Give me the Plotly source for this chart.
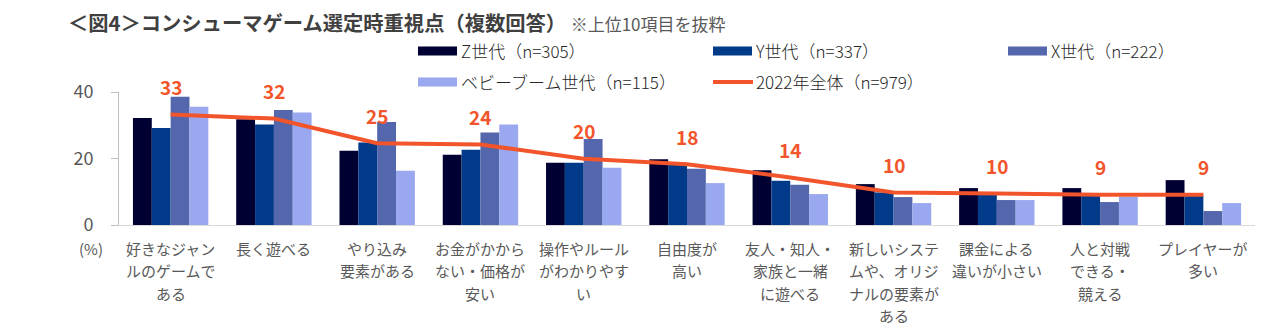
import plotly.graph_objects as go

# ---- data -------------------------------------------------------------
categories = [
    "好きなジャン<br>ルのゲームで<br>ある",
    "長く遊べる",
    "やり込み<br>要素がある",
    "お金がかから<br>ない・価格が<br>安い",
    "操作やルール<br>がわかりやす<br>い",
    "自由度が<br>高い",
    "友人・知人・<br>家族と一緒<br>に遊べる",
    "新しいシステ<br>ムや、オリジ<br>ナルの要素が<br>ある",
    "課金による<br>違いが小さい",
    "人と対戦<br>できる・<br>競える",
    "プレイヤーが<br>多い",
]

gen_z = [32.2, 31.8, 22.3, 21.1, 18.7, 19.8, 16.5, 12.3, 11.1, 11.1, 13.5]
gen_y = [29.2, 30.2, 24.8, 22.6, 18.7, 18.2, 13.3, 9.8, 9.6, 9.0, 9.0]
gen_x = [38.6, 34.6, 31.0, 27.8, 25.9, 16.9, 12.1, 8.4, 7.5, 6.9, 4.2]
boomers = [35.6, 33.8, 16.3, 30.2, 17.2, 12.6, 9.3, 6.6, 7.5, 8.5, 6.6]
total_2022 = [33.2, 32.0, 24.6, 24.2, 19.9, 18.3, 14.3, 9.8, 9.5, 9.1, 9.1]

series_names = [
    "Z世代（n=305）",
    "Y世代（n=337）",
    "X世代（n=222）",
    "ベビーブーム世代（n=115）",
]
total_name = "2022年全体（n=979）"

y_ticks = [0, 20, 40]

# ---- style -------------------------------------------------------------
FONT = "Noto Sans CJK JP"
bar_colors = ["#000033", "#023A8A", "#5466AC", "#99A8EF"]
line_color = "#F2552B"
gray = "#595959"

W, H = 1281, 336
M_L, M_R, M_T, M_B = 119, 26, 92, 111
PW, PH = W - M_L - M_R, H - M_T - M_B


def px(x):
    return (x - M_L) / PW


def py(y):
    return (H - M_B - y) / PH


fig = go.Figure()

for name, vals, col in zip(series_names, [gen_z, gen_y, gen_x, boomers], bar_colors):
    fig.add_trace(go.Bar(x=categories, y=vals, name=name,
                         marker=dict(color=col, line=dict(width=0))))

fig.add_trace(go.Scatter(x=categories, y=total_2022, name=total_name,
                         mode="lines", line=dict(color=line_color, width=4)))

# value labels above the overall line
for c, v in zip(categories, total_2022):
    fig.add_annotation(x=c, y=v, text=f"{v:.0f}", showarrow=False,
                       yshift=28, yanchor="middle",
                       font=dict(family=FONT, size=19, color=line_color, weight="bold"))

# category labels, one annotation per wrapped line for a looser line pitch
LABEL_PITCH = 22.5
for c in categories:
    for i, part in enumerate(c.split("<br>")):
        fig.add_annotation(x=c, y=0, text=part, showarrow=False,
                           xanchor="center", yanchor="middle",
                           yshift=-(23 + i * LABEL_PITCH),
                           font=dict(family=FONT, size=15, color=gray))

# title
fig.add_annotation(
    xref="paper", yref="paper", x=px(66), y=py(22), xanchor="left", yanchor="middle",
    text="<b>＜図4＞コンシューマゲーム選定時重視点（複数回答）</b> "
         "<span style='font-size:17px;color:#595959'>※上位10項目を抜粋</span>",
    showarrow=False, font=dict(family=FONT, size=20.3, color="#404040"))

# unit label
fig.add_annotation(xref="paper", yref="paper", x=px(91), y=py(248),
                   text="(%)", showarrow=False, xanchor="center", yanchor="middle",
                   font=dict(family=FONT, size=15, color=gray))

# legend drawn as swatches + text
legend_items = [
    (series_names[0], bar_colors[0], "bar", 418, 51),
    (series_names[1], bar_colors[1], "bar", 713, 51),
    (series_names[2], bar_colors[2], "bar", 1008, 51),
    (series_names[3], bar_colors[3], "bar", 418, 82),
    (total_name, line_color, "line", 713, 82),
]
for label, col, kind, lx, ly in legend_items:
    if kind == "bar":
        fig.add_shape(type="rect", xref="paper", yref="paper",
                      x0=px(lx), x1=px(lx + 39), y0=py(ly + 4.5), y1=py(ly - 4.5),
                      fillcolor=col, line=dict(width=0))
    else:
        fig.add_shape(type="line", xref="paper", yref="paper",
                      x0=px(lx), x1=px(lx + 40), y0=py(ly), y1=py(ly),
                      line=dict(color=col, width=4))
    fig.add_annotation(xref="paper", yref="paper", x=px(lx + 41), y=py(ly),
                       xanchor="left", yanchor="middle", text=label, showarrow=False,
                       font=dict(family=FONT, size=17, color="#262626", weight=300))

fig.update_layout(
    width=W, height=H,
    margin=dict(l=M_L, r=M_R, t=M_T, b=M_B),
    paper_bgcolor="white", plot_bgcolor="white",
    font=dict(family=FONT, color=gray),
    barmode="group", bargap=0.27, bargroupgap=0,
    showlegend=False,
    xaxis=dict(showline=True, linecolor="#D9D9D9", linewidth=1, ticks="",
               showgrid=False, showticklabels=False, fixedrange=True),
    yaxis=dict(range=[0, 40], tickvals=y_ticks, showline=True, linecolor="#BFBFBF",
               linewidth=1, ticks="outside", ticklen=7, tickcolor="#BFBFBF",
               showgrid=False, zeroline=False, tickfont=dict(size=18, color=gray),
               ticklabelstandoff=14, fixedrange=True),
)

fig.write_html("out.html")
